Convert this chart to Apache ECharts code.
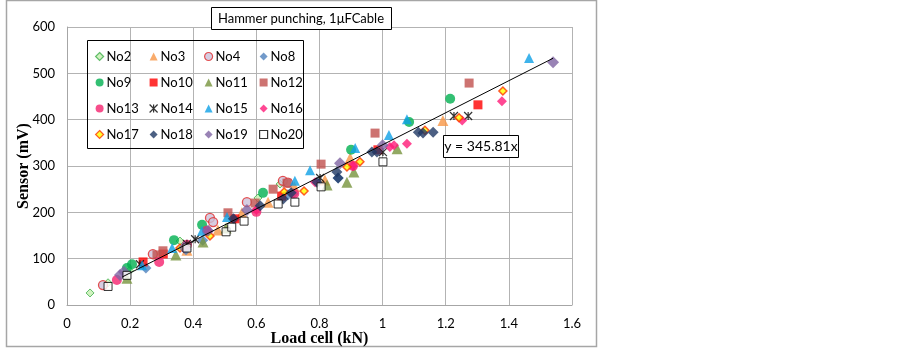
<!DOCTYPE html>
<html>
<head>
<meta charset="utf-8">
<script src="https://cdn.jsdelivr.net/npm/echarts@6/dist/echarts.min.js"></script>
<style>
  html, body { margin: 0; padding: 0; background: #fff; }
  #main { width: 903px; height: 348px; }
</style>
</head>
<body>
<div id="main"></div>
<script>
const chart = echarts.init(document.getElementById('main'))

// load cell (kN), sensor (mV)
const no2 = [[0.073,26],[0.13,48],[0.198,74],[0.358,138],[0.605,231],[0.675,261]]
const no3 = [[0.38,118],[0.478,162],[0.554,199],[0.637,222],[0.72,255],[0.817,270],[0.897,317],[1.191,398]]
const no4 = [[0.114,43],[0.272,110],[0.453,188],[0.463,179],[0.57,222],[0.684,268],[0.70,264]]
const no8 = [[0.25,80],[0.377,119],[0.43,140],[0.53,185],[0.70,238],[0.716,240],[0.859,274]]
const no9 = [[0.19,80],[0.206,88],[0.339,140],[0.428,173],[0.621,242],[0.90,335],[1.084,395],[1.214,445]]
const no10 = [[0.241,93],[0.305,110],[0.532,186],[0.68,235],[0.985,335],[1.302,432]]
const no11 = [[0.19,58],[0.345,108],[0.431,136],[0.504,166],[0.824,259],[0.887,265],[0.909,287],[1.046,337]]
const no12 = [[0.285,108],[0.304,117],[0.51,199],[0.596,220],[0.653,250],[0.697,263],[0.805,304],[0.976,371],[1.274,479]]
const no13 = [[0.158,54],[0.292,93],[0.38,130],[0.443,160],[0.60,201],[0.72,240],[0.906,300]]
const no14 = [[0.231,88],[0.38,132],[0.406,142],[0.802,274],[1.001,330],[1.226,408],[1.271,408]]
const no15 = [[0.238,86],[0.333,123],[0.428,160],[0.507,190],[0.722,268],[0.77,291],[0.913,339],[1.02,367],[1.077,401],[1.464,533]]
const no16 = [[0.447,158],[0.60,205],[0.786,265],[0.906,300],[1.023,341],[1.036,345],[1.077,348],[1.252,398],[1.378,440]]
const no17 = [[0.358,123],[0.453,149],[0.688,244],[0.751,246],[0.887,298],[0.928,309],[1.134,377],[1.242,404],[1.381,462]]
const no18 = [[0.527,186],[0.612,214],[0.685,229],[0.71,242],[0.792,265],[0.855,287],[0.859,274],[0.966,330],[0.982,330],[1.113,373],[1.128,371],[1.16,373]]
const no19 = [[0.168,65],[0.18,72],[0.371,124],[0.447,160],[0.57,205],[0.865,306],[1.0,345],[1.54,524]]
const no20 = [[0.13,40],[0.19,64],[0.38,123],[0.504,158],[0.522,168],[0.561,181],[0.669,218],[0.722,222],[0.805,255],[1.001,309]]

const slope = 345.81
const trendX = [0.175, 1.54]

const xTicks = [0, 1.6, 0.2]
const yTicks = [0, 600, 100]

const star = 'path://M0,0L10,10M10,0L0,10M5,0L5,10'

const seriesDefs = [
  ['No2', no2, 'diamond', 8, { color: '#C6EFB0', borderColor: '#3DAE4A', borderWidth: 1 }],
  ['No3', no3, 'triangle', 11, { color: '#F79646' }],
  ['No4', no4, 'circle', 9, { color: '#CCC0DA', borderColor: '#E02828', borderWidth: 1.3 }],
  ['No8', no8, 'diamond', 11, { color: '#4F81BD' }],
  ['No9', no9, 'circle', 10, { color: '#00B050' }],
  ['No10', no10, 'rect', 9, { color: '#FF0000' }],
  ['No11', no11, 'triangle', 11, { color: '#77933C' }],
  ['No12', no12, 'rect', 9, { color: '#C0504D' }],
  ['No13', no13, 'circle', 10, { color: '#F5226E' }],
  ['No14', no14, star, 8, { color: 'transparent', borderColor: '#000', borderWidth: 1.2 }],
  ['No15', no15, 'triangle', 10, { color: '#0EA0E6' }],
  ['No16', no16, 'diamond', 10, { color: '#FF1A78' }],
  ['No17', no17, 'diamond', 8, { color: '#FFFF00', borderColor: '#FF3300', borderWidth: 1.5 }],
  ['No18', no18, 'diamond', 11, { color: '#1F3864' }],
  ['No19', no19, 'diamond', 12, { color: '#8064A2' }],
  ['No20', no20, 'rect', 8, { color: '#FFFFFF', borderColor: '#000', borderWidth: 1 }]
]

let series = seriesDefs.map(d => ({
  name: d[0],
  type: 'scatter',
  data: d[1],
  symbol: d[2],
  symbolSize: d[3],
  itemStyle: d[4],
  emphasis: { disabled: true }
}))

series.push({
  name: 'trend',
  type: 'line',
  data: trendX.map(x => [x, x * slope]),
  symbol: 'none',
  lineStyle: { color: '#000', width: 1 },
  silent: true,
  z: 5
})

const cols = [
  ['No2', 'No9', 'No13', 'No17'],
  ['No3', 'No10', 'No14', 'No18'],
  ['No4', 'No11', 'No15', 'No19'],
  ['No8', 'No12', 'No16', 'No20']
]
const colLeft = [95, 149, 204, 259]

let legends = cols.map((c, i) => ({
  data: c,
  orient: 'vertical',
  left: colLeft[i],
  top: 50,
  padding: 0,
  itemWidth: 8,
  itemHeight: 8,
  itemGap: 13,
  selectedMode: false,
  itemStyle: { borderWidth: 1.2 },
  textStyle: { fontFamily: 'Lato', fontSize: 13, color: '#000', padding: [0, 0, 0, -2] }
}))

let option = {
  backgroundColor: '#fff',
  animation: false,
  grid: { left: 67, top: 27, right: 331, bottom: 43, outerBoundsMode: 'none' },
  legend: legends,
  xAxis: {
    type: 'value',
    min: xTicks[0],
    max: xTicks[1],
    interval: xTicks[2],
    name: 'Load cell (kN)',
    nameLocation: 'middle',
    nameGap: 26,
    nameMoveOverlap: false,
    nameTextStyle: { fontFamily: 'Liberation Serif', fontWeight: 'bold', fontSize: 16, color: '#000' },
    axisLine: { lineStyle: { color: '#A6A6A6' } },
    axisTick: { show: false },
    axisLabel: { fontFamily: 'Lato', fontSize: 13, color: '#000', margin: 12 },
    splitLine: { lineStyle: { color: '#B3B3B3', width: 1 } }
  },
  yAxis: {
    type: 'value',
    min: yTicks[0],
    max: yTicks[1],
    interval: yTicks[2],
    name: 'Sensor (mV)',
    nameLocation: 'middle',
    nameGap: 35,
    nameMoveOverlap: false,
    nameTextStyle: { fontFamily: 'Liberation Serif', fontWeight: 'bold', fontSize: 16, color: '#000' },
    axisLine: { show: true, lineStyle: { color: '#A6A6A6' } },
    axisTick: { show: false },
    axisLabel: { fontFamily: 'Lato', fontSize: 13, color: '#000', margin: 12 },
    splitLine: { lineStyle: { color: '#B3B3B3', width: 1 } }
  },
  graphic: [
    { type: 'rect', shape: { x: 6.5, y: 0.5, width: 590, height: 346 }, style: { fill: 'none', stroke: '#A6A6A6', lineWidth: 1.5 }, silent: true },
    { type: 'rect', shape: { x: 87.5, y: 40.5, width: 216, height: 108 }, style: { fill: 'rgba(255,255,255,0)', stroke: '#000', lineWidth: 1 }, silent: true, z: 10 },
    { type: 'rect', shape: { x: 211.5, y: 7.5, width: 180, height: 22 }, style: { fill: '#fff', stroke: '#000', lineWidth: 1 }, silent: true, z: 10 },
    { type: 'text', x: 301, y: 18.5, style: { text: 'Hammer punching, 1μFCable', fontFamily: 'Lato', fontSize: 13, fill: '#000', align: 'center', verticalAlign: 'middle' }, silent: true, z: 11 },
    { type: 'rect', shape: { x: 443.5, y: 135.5, width: 75, height: 22 }, style: { fill: '#fff', stroke: '#000', lineWidth: 1 }, silent: true, z: 10 },
    { type: 'text', x: 481, y: 146.5, style: { text: 'y = 345.81x', fontFamily: 'Lato', fontSize: 14, fill: '#000', align: 'center', verticalAlign: 'middle' }, silent: true, z: 11 }
  ],
  series: series
}
chart.setOption(option)
</script>
</body>
</html>
